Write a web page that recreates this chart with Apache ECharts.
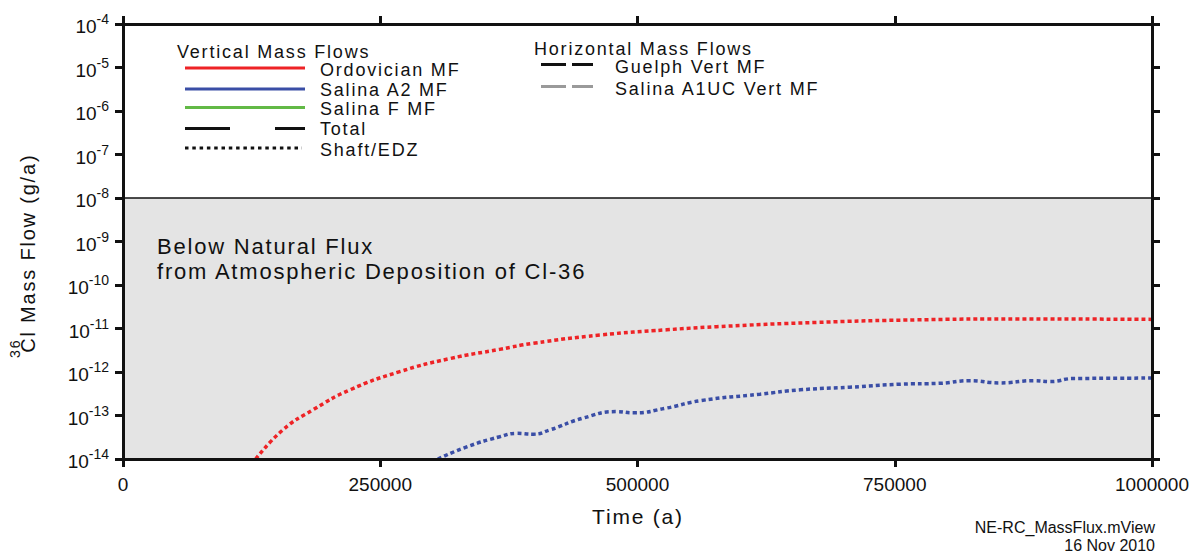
<!DOCTYPE html>
<html>
<head>
<meta charset="utf-8">
<script src="https://cdn.jsdelivr.net/npm/echarts@6/dist/echarts.min.js"></script>
<style>
html,body{margin:0;padding:0;background:#ffffff;}
#chart{width:1193px;height:552px;}
#chart text[style*="Arial"]{letter-spacing:1.8px;}
</style>
</head>
<body>
<div id="chart"></div>
<script>
// ---- data ----
const xTicks = [0, 250000, 500000, 750000, 1000000];
const yMin = 1e-14, yMax = 1e-4;

// Ordovician MF (vertical mass flow), g/a
const ordTime = [129000, 155500, 184600, 220600, 269000, 317800, 366000, 398600, 463600, 528400, 577000, 674000, 771000, 868500, 1000000];
const ordFlow = [1.0e-14, 4.7e-14, 1.35e-13, 3.89e-13, 1.02e-12, 2.04e-12, 3.31e-12, 4.57e-12, 7.08e-12, 9.33e-12, 1.10e-11, 1.38e-11, 1.58e-11, 1.66e-11, 1.62e-11];

// Salina A2 MF (vertical mass flow), g/a
const a2Time = [306000, 334000, 366000, 382600, 398700, 415000, 447000, 479800, 496000, 528000, 561000, 619000, 658000, 706000, 755000, 794000, 823000, 852000, 885000, 901000, 924000, 1000000];
const a2Flow = [1.0e-14, 1.9e-14, 3.24e-14, 3.89e-14, 3.72e-14, 4.68e-14, 8.7e-14, 1.23e-13, 1.15e-13, 1.48e-13, 2.19e-13, 3.09e-13, 3.89e-13, 4.47e-13, 5.25e-13, 5.5e-13, 6.31e-13, 5.62e-13, 6.31e-13, 6.03e-13, 7.08e-13, 7.24e-13];

// natural flux threshold (g/a)
const naturalFlux = 1e-8;

const verticalLegend = ['Ordovician MF', 'Salina A2 MF', 'Salina F MF', 'Total', 'Shaft/EDZ'];
const horizontalLegend = ['Guelph Vert MF', 'Salina A1UC Vert MF'];

// ---- styling ----
const RED = '#ee2326', BLUE = '#3a4ea6', GREEN = '#62b946', GREY = '#9a9a9a', INK = '#111111';
const TICK_FONT = 'Liberation Sans';
const SPACED_FONT = 'Liberation Sans, Arial';

function pairs(xs, ys) { return xs.map((x, i) => [x, ys[i]]); }

const chart = echarts.init(document.getElementById('chart'), null, { renderer: 'svg' });

const axisLineStyle = { onZero: false, lineStyle: { color: INK, width: 3 } };
const axisTickStyle = { show: true, length: 8, lineStyle: { color: INK, width: 3 } };

const yLabel = {
  fontFamily: TICK_FONT,
  color: INK,
  margin: 14,
  formatter: v => '{b|10}{s|' + Math.round(Math.log10(v)) + '}',
  rich: {
    b: { fontSize: 19, fontFamily: TICK_FONT, color: INK, lineHeight: 24, verticalAlign: 'bottom' },
    s: { fontSize: 14, fontFamily: TICK_FONT, color: INK, lineHeight: 12, verticalAlign: 'top' }
  }
};

function legendLine(x1, x2, y, color, dash) {
  return { type: 'line', silent: true, z: 20,
    shape: { x1: x1, y1: y, x2: x2, y2: y },
    style: { stroke: color, lineWidth: 3, lineDash: dash || null } };
}
function label(text, x, y, size, family, align) {
  return { type: 'text', silent: true, z: 20, x: x, y: y,
    style: { text: text, fontSize: size, fontFamily: family, fill: INK,
      align: align || 'left', textAlign: align || 'left',
      verticalAlign: 'middle', textVerticalAlign: 'middle' } };
}

const graphics = [
  label('Vertical Mass Flows', 177, 52, 18, SPACED_FONT),
  legendLine(185, 305, 68, RED),
  label(verticalLegend[0], 320, 69.5, 18, SPACED_FONT),
  legendLine(185, 305, 89, BLUE),
  label(verticalLegend[1], 320, 89.5, 18, SPACED_FONT),
  legendLine(185, 305, 107.5, GREEN),
  label(verticalLegend[2], 320, 109, 18, SPACED_FONT),
  legendLine(185, 230, 128.5, INK),
  legendLine(275, 305, 128.5, INK),
  label(verticalLegend[3], 320, 129, 18, SPACED_FONT),
  legendLine(185, 302, 148, INK, [3.5, 3.8]),
  label(verticalLegend[4], 320, 149.5, 18, SPACED_FONT),

  label('Horizontal Mass Flows', 534, 48.5, 18, SPACED_FONT),
  legendLine(541, 566, 64.5, INK),
  legendLine(572, 593, 64.5, INK),
  label(horizontalLegend[0], 615, 67, 18, SPACED_FONT),
  legendLine(541, 566, 86.5, GREY),
  legendLine(572, 593, 86.5, GREY),
  label(horizontalLegend[1], 615, 89, 18, SPACED_FONT),

  label('Below Natural Flux', 157, 246, 22, SPACED_FONT),
  label('from Atmospheric Deposition of Cl-36', 157, 271, 22, SPACED_FONT),

  label('Time (a)', 638, 516, 21, SPACED_FONT, 'center'),

  { type: 'text', silent: true, z: 20, x: 23, y: 263, rotation: Math.PI / 2,
    style: { text: '{sup|36}{main|Cl Mass Flow (g/a)}', fill: INK,
      align: 'center', textAlign: 'center', verticalAlign: 'middle', textVerticalAlign: 'middle',
      fontFamily: SPACED_FONT, fontSize: 20,
      rich: {
        sup: { fontSize: 14, fontFamily: SPACED_FONT, fill: INK, color: INK, lineHeight: 10, verticalAlign: 'top', padding: [0, 4, 0, 0] },
        main: { fontSize: 20, fontFamily: SPACED_FONT, fill: INK, color: INK, lineHeight: 30, verticalAlign: 'bottom' }
      } } },

  label('NE-RC_MassFlux.mView', 1155, 527, 16, TICK_FONT, 'right'),
  label('16 Nov 2010', 1155, 545, 16, TICK_FONT, 'right')
];

const option = {
  animation: false,
  backgroundColor: '#ffffff',
  grid: { left: 123, right: 41, top: 24, bottom: 93, containLabel: false, outerBoundsMode: 'none' },
  xAxis: [
    { type: 'value', position: 'bottom', min: xTicks[0], max: xTicks[xTicks.length - 1],
      interval: xTicks[1] - xTicks[0], z: 10,
      axisLine: axisLineStyle, axisTick: axisTickStyle, splitLine: { show: false },
      axisLabel: { fontSize: 19, fontFamily: TICK_FONT, color: INK, margin: 16,
        formatter: v => String(v),
        showMinLabel: true, showMaxLabel: true, hideOverlap: false } },
    { type: 'value', position: 'top', min: xTicks[0], max: xTicks[xTicks.length - 1],
      interval: xTicks[1] - xTicks[0], z: 10,
      axisLine: axisLineStyle, axisTick: axisTickStyle, splitLine: { show: false },
      axisLabel: { show: false } }
  ],
  yAxis: [
    { type: 'log', logBase: 10, position: 'left', min: yMin, max: yMax, interval: 1, z: 10,
      axisLine: axisLineStyle, axisTick: axisTickStyle, splitLine: { show: false },
      minorTick: { show: false }, axisLabel: yLabel },
    { type: 'log', logBase: 10, position: 'right', min: yMin, max: yMax, interval: 1, z: 10,
      axisLine: axisLineStyle, axisTick: axisTickStyle, splitLine: { show: false },
      minorTick: { show: false }, axisLabel: { show: false } }
  ],
  series: [
    { name: 'natural flux', type: 'line',
      data: [[xTicks[0], naturalFlux], [xTicks[xTicks.length - 1], naturalFlux]],
      showSymbol: false, z: 2, silent: true,
      lineStyle: { color: INK, width: 1.5, type: 'solid' },
      markArea: { silent: true, itemStyle: { color: '#e4e4e4' },
        data: [[{ yAxis: yMin }, { yAxis: naturalFlux }]] } },
    { name: 'right scale', type: 'line', xAxisIndex: 1, yAxisIndex: 1,
      data: [[xTicks[0], naturalFlux]], showSymbol: false, silent: true, lineStyle: { width: 0 } },
    { name: verticalLegend[0], type: 'line', data: pairs(ordTime, ordFlow), z: 3,
      showSymbol: false, smooth: 0.5, clip: true,
      lineStyle: { color: RED, width: 3.5, type: [4, 3] } },
    { name: verticalLegend[1], type: 'line', data: pairs(a2Time, a2Flow), z: 3,
      showSymbol: false, smooth: 0.5, clip: true,
      lineStyle: { color: BLUE, width: 3.5, type: [4, 3] } }
  ],
  graphic: graphics
};

chart.setOption(option);
</script>
</body>
</html>
